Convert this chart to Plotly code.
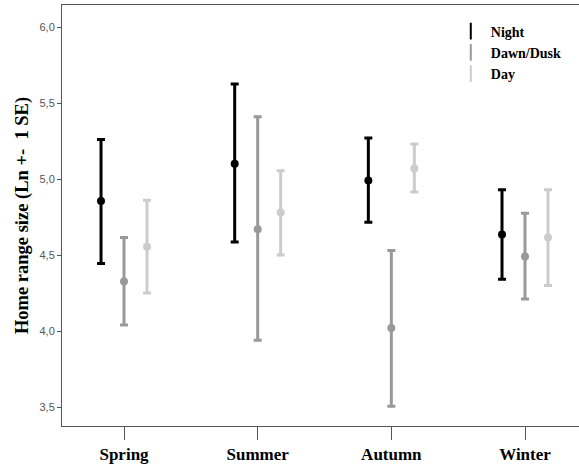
import plotly.graph_objects as go

seasons = ["Spring", "Summer", "Autumn", "Winter"]
series = ["Night", "Dawn/Dusk", "Day"]
colors = ["#000000", "#999999", "#cccccc"]

night_mean = [4.855, 5.10, 4.99, 4.635]
night_lo = [4.445, 4.585, 4.715, 4.34]
night_hi = [5.26, 5.625, 5.27, 4.93]

dawn_mean = [4.325, 4.67, 4.02, 4.49]
dawn_lo = [4.04, 3.94, 3.505, 4.21]
dawn_hi = [4.615, 5.41, 4.53, 4.775]

day_mean = [4.555, 4.78, 5.07, 4.615]
day_lo = [4.25, 4.50, 4.915, 4.30]
day_hi = [4.86, 5.055, 5.23, 4.93]

y_ticks = [3.5, 4.0, 4.5, 5.0, 5.5, 6.0]

data = [(night_mean, night_lo, night_hi), (dawn_mean, dawn_lo, dawn_hi), (day_mean, day_lo, day_hi)]

fig = go.Figure()
for name, color, (m, lo, hi) in zip(series, colors, data):
    fig.add_trace(go.Scatter(
        x=seasons, y=m, mode="markers", name=name, showlegend=False,
        offsetgroup=name,
        marker=dict(color=color, size=8, symbol="circle"),
        error_y=dict(type="data", symmetric=False,
                     array=[h - v for h, v in zip(hi, m)],
                     arrayminus=[v - l for l, v in zip(lo, m)],
                     color=color, thickness=3, width=4),
    ))
# legend entries
for name, color in zip(series, colors):
    fig.add_trace(go.Scatter(
        x=[None], y=[None], mode="markers", name="<b>" + name + "</b>", showlegend=True,
        marker=dict(symbol="line-ns-open", size=14, color=color, line=dict(color=color, width=3)),
    ))

fig.update_layout(
    width=579, height=465,
    margin=dict(l=62, r=0, t=5, b=39),
    paper_bgcolor="white", plot_bgcolor="white",
    separators=",.",
    scattermode="group", scattergap=0.484,
    showlegend=True,
    legend=dict(x=0.752, y=0.975, xanchor="left", yanchor="top",
                bgcolor="rgba(0,0,0,0)", tracegroupgap=0, itemwidth=30,
                font=dict(family="Liberation Serif", size=14, color="#000"),
                itemsizing="constant"),
    xaxis=dict(type="category", range=[-0.464, 3.404],
               showline=True, linecolor="#555", linewidth=1, mirror=True,
               ticks="outside", ticklen=13, tickcolor="#555",
               tickfont=dict(family="Liberation Serif", size=17, color="#000", weight="bold"),
               showgrid=False, zeroline=False, fixedrange=True),
    yaxis=dict(range=[3.375, 6.145], tickvals=y_ticks, tickformat=".1f",
               showline=True, linecolor="#555", linewidth=1,
               ticks="outside", ticklen=4, tickcolor="#555",
               tickfont=dict(family="Liberation Sans", size=11, color="#555"),
               showgrid=False, zeroline=False,
               title=dict(text="<b>Home range size (Ln +-  1 SE)</b>", standoff=6,
                          font=dict(family="Liberation Serif", size=18.5, color="#000"))),
)

fig.write_html("out.html")
